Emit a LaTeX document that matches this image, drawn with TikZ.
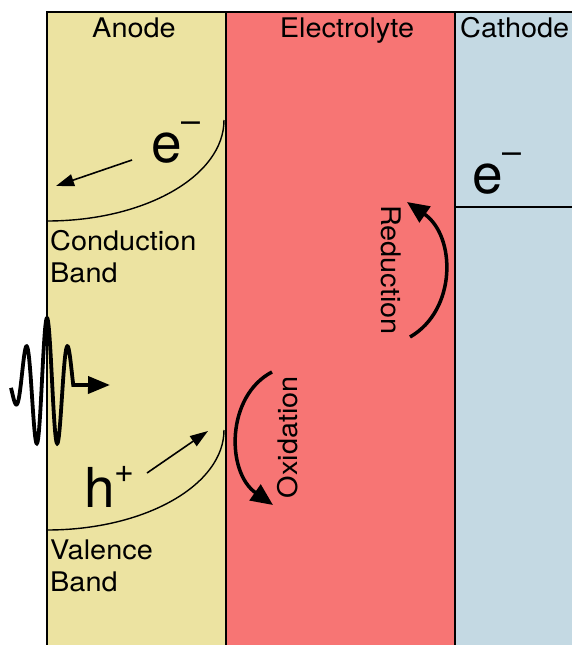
\documentclass[tikz,border=0pt]{standalone}
\usepackage{fontspec}
\setmainfont{TeX Gyre Heros}
\newfontfamily\lblfont[FakeStretch=1.07]{TeX Gyre Heros}
\usetikzlibrary{arrows.meta,positioning}
\definecolor{anodecolor}{RGB}{236,227,161}
\definecolor{electrolytecolor}{RGB}{247,117,116}
\definecolor{cathodecolor}{RGB}{196,217,227}
\newcommand{\chgsup}[2]{\raisebox{#2}{\fontsize{34}{34}\selectfont #1}}

\begin{document}
\begin{tikzpicture}[x=1pt,y=-1pt,lbl/.style={inner sep=0pt,align=left,font=\lblfont\fontsize{27}{32}\selectfont},big/.style={inner sep=0pt,font=\fontsize{55}{60}\selectfont},border/.style={line width=1.8pt},band/.style={line width=1.4pt},thinarr/.style={-{Triangle[length=18pt,width=12pt]},line width=1.6pt},curvarr/.style={-{Triangle[length=22pt,width=19pt]},line width=3.5pt}]
\useasboundingbox (0,0) rectangle (572,645);
\fill[anodecolor](47,12) rectangle (226,645); \fill[electrolytecolor](226,12) rectangle (455,645); \fill[cathodecolor](455,12) rectangle (572,645);
\draw[border](47,645)--(47,12)--(572,12); \draw[border](226,12)--(226,645); \draw[border](455,12)--(455,645);
\draw[band](455,207)--(572,207);
% bands
\draw[band](224,120) .. controls (224,176) and (145,221) .. (47,221);
\draw[band](224,430) .. controls (224,485) and (145,530) .. (47,530);
% labels
\node[lbl,anchor=base](anode) at (134,37){Anode}; \node[lbl,anchor=base](electrolyte) at (347,37){Electrolyte};
\node[lbl,anchor=base west](cathode) at (460,37){Cathode};
\node[lbl,anchor=north west](cb) at (50,230){Conduction\\Band}; \node[lbl,anchor=north west](vb) at (50,540){Valence\\Band};
\node[big,anchor=base west](eanode) at (151,162){e\chgsup{–}{30pt}}; \node[big,anchor=base west](ecathode) at (472,193){e\chgsup{–}{30pt}};
\node[big,anchor=base west](hole) at (84,507){h\chgsup{+}{25pt}};
\node[lbl,rotate=90](ox) at (288,437){Oxidation}; \node[lbl,rotate=-90](red) at (391,270){Reduction};
% arrows
\coordinate(e1) at (132,160); \coordinate(e2) at (56,186); \coordinate(h1) at (147,473); \coordinate(h2) at (208,431);
\draw[thinarr](e1)--(e2); \draw[thinarr](h1)--(h2);
\coordinate(ox1) at (272,372); \coordinate(ox2) at (273,505); \coordinate(red1) at (410,337); \coordinate(red2) at (407,202);
\draw[curvarr](ox1) .. controls (226,396) and (226,472) .. (ox2);
\draw[curvarr](red1) .. controls (457,310) and (456,236) .. (red2);
% light wave
\coordinate(tip) at (110,385);
\draw[line width=3.8pt,-{Triangle[length=22pt,width=17pt]}] plot[domain=11:73.25,samples=160,smooth] (\x,{385-67*exp(-(((\x-47)/28)^2))*cos(360*(\x-47)/21)}) -- (tip);
\end{tikzpicture}
\end{document}
